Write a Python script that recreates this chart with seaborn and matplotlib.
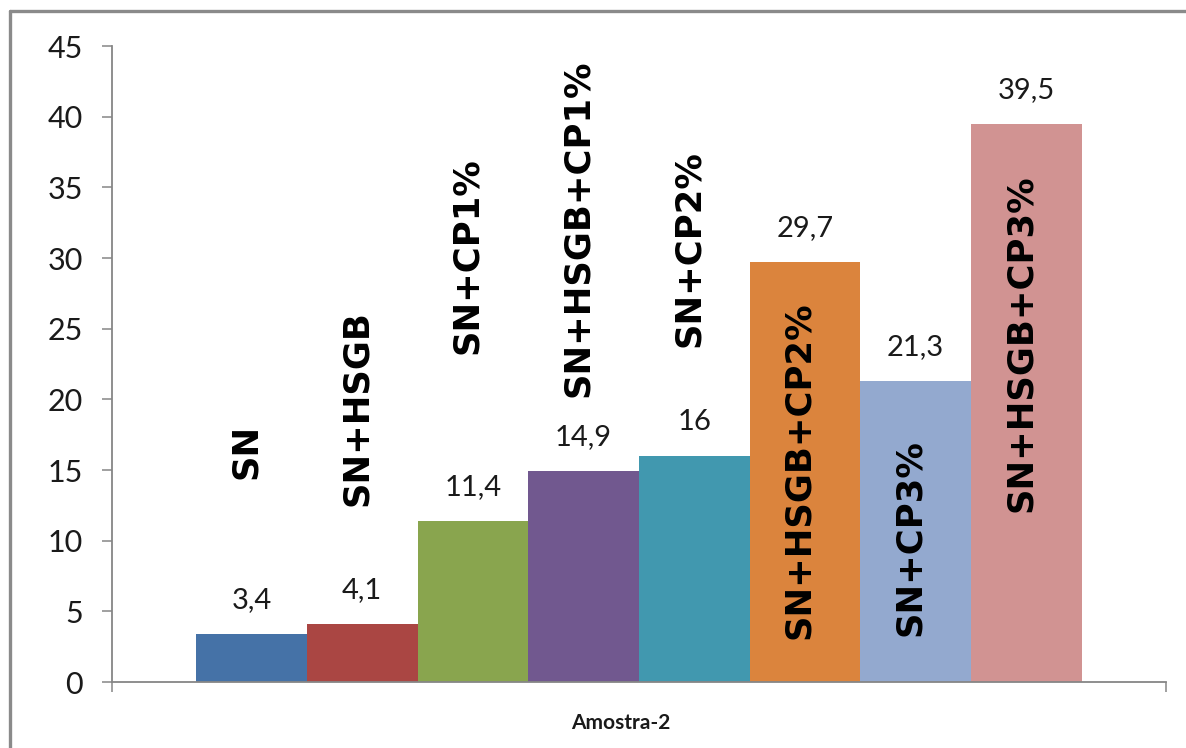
import matplotlib
matplotlib.use("Agg")
import matplotlib.pyplot as plt
from matplotlib.lines import Line2D
from matplotlib import transforms
import seaborn as sns
import pandas as pd

# Sample group and treatments
sample = ["Amostra-2"]
treatments = ["SN", "SN+HSGB", "SN+CP1%", "SN+HSGB+CP1%",
              "SN+CP2%", "SN+HSGB+CP2%", "SN+CP3%", "SN+HSGB+CP3%"]
values = [3.4, 4.1, 11.4, 14.9, 16.0, 29.7, 21.3, 39.5]
value_labels = ["3,4", "4,1", "11,4", "14,9", "16", "29,7", "21,3", "39,5"]
y_ticks = [0, 5, 10, 15, 20, 25, 30, 35, 40, 45]

# Series colours (Excel 2007 palette)
colors = ["#4572A7", "#AA4643", "#89A54E", "#71588F",
          "#4198AF", "#DB843D", "#93A9CF", "#D19392"]

# Vertical centre (in data units) of each rotated series-name label
name_label_y = [16.3, 19.4, 30.2, 32.1, 30.7, 15.0, 10.2, 24.0]

df = pd.DataFrame({
    "amostra": sample * len(treatments),
    "tratamento": treatments,
    "valor": values,
})

sns.set_theme(style="white")
plt.rcParams["font.family"] = ["Lato", "DejaVu Sans"]

fig = plt.figure(figsize=(11.86, 7.48), dpi=100)
ax = fig.add_axes([0.0944, 0.0882, 0.8887, 0.8503])

sns.barplot(data=df, x="amostra", y="valor", hue="tratamento",
            hue_order=treatments, palette=colors, width=0.84,
            saturation=1, dodge=True, errorbar=None, legend=False,
            linewidth=0, ax=ax)

axis_grey = "#868686"
ax.set_ylim(0, 45)
ax.set_xlim(-0.5, 0.5)
ax.set_yticks(y_ticks)
ax.set_yticklabels([str(t) for t in y_ticks])
for side in ("top", "right"):
    ax.spines[side].set_visible(False)
for side in ("left", "bottom"):
    ax.spines[side].set_color(axis_grey)
    ax.spines[side].set_linewidth(1.3)

ax.tick_params(axis="y", which="major", direction="out", length=7,
               width=1.1, color=axis_grey, pad=14, labelsize=22,
               labelcolor="#1a1a1a", left=True)
ax.set_xticks([-0.5, 0.5], minor=True)
ax.tick_params(axis="x", which="minor", direction="out", length=7,
               width=1.1, color=axis_grey, bottom=True)
ax.tick_params(axis="x", which="major", length=0, pad=22, labelsize=15,
               labelcolor="#1a1a1a")
for lbl in ax.get_xticklabels():
    lbl.set_fontweight("bold")
    lbl.set_transform(lbl.get_transform() +
                      transforms.ScaledTranslation(-0.18, 0, fig.dpi_scale_trans))
ax.set_xlabel("")
ax.set_ylabel("")
ax.grid(False)

# Value labels above bars and rotated series names
for container, txt, name, ny in zip(ax.containers, value_labels,
                                    treatments, name_label_y):
    bar = container.patches[0]
    cx = bar.get_x() + bar.get_width() / 2
    h = bar.get_height()
    ax.annotate(txt, (cx, h), xytext=(0, 24.5), textcoords="offset points",
                ha="center", va="center", fontsize=21, color="#1a1a1a")
    ax.annotate(name, (cx, ny), xytext=(-4, 0), textcoords="offset points",
                rotation=90, ha="center", va="center", fontsize=25.5,
                fontweight="bold", family=["DejaVu Sans"], color="black")

# Chart-area frame (only the top and left edges fall inside the image)
frame_kw = dict(color="#8a8a8a", linewidth=2.4, transform=fig.transFigure)
fig.add_artist(Line2D([0.0088, 0.0088], [-0.1, 0.9853], **frame_kw))
fig.add_artist(Line2D([0.0088, 1.1], [0.9853, 0.9853], **frame_kw))

fig.savefig("out.png", dpi=100, facecolor="white")
